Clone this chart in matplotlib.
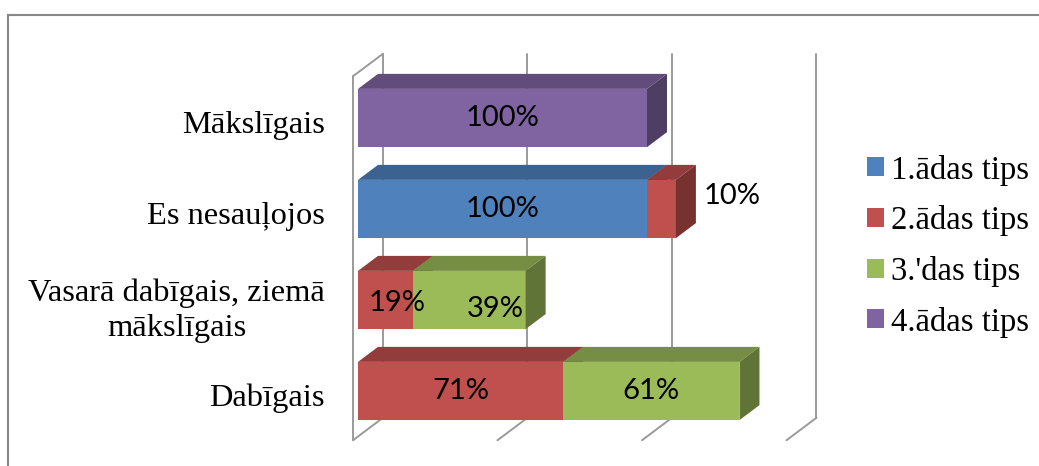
import matplotlib
matplotlib.use('Agg')
import matplotlib.pyplot as plt
from matplotlib.patches import Polygon, Rectangle, Patch
from matplotlib.lines import Line2D
from matplotlib.colors import to_rgb

# dati (kategorijas no augšas uz leju)
categories = ['Mākslīgais', 'Es nesauļojos', 'Vasarā dabīgais, ziemā\nmākslīgais', 'Dabīgais']
series_names = ['1.ādas tips', '2.ādas tips', "3.'das tips", '4.ādas tips']
tips1 = [0, 100, 0, 0]
tips2 = [0, 10, 19, 71]
tips3 = [0, 0, 39, 61]
tips4 = [100, 0, 0, 0]
grid_ticks = [0, 50, 100, 150]

colors = ['#4F81BD', '#C0504D', '#9BBB59', '#8064A2']

W, H = 1039, 466
fig = plt.figure(figsize=(W / 100, H / 100), dpi=100)
fig.patch.set_facecolor('white')

# ass pa visu attēlu, mērogs: 2.89 px uz 1%, 91 px uz kategoriju
PX_X, X0 = 2.89, 358
PX_Y, Y0 = 91, 391
ax = fig.add_axes([0, 0, 1, 1])
ax.set_xlim(-X0 / PX_X, (W - X0) / PX_X)
ax.set_ylim((Y0 - H) / PX_Y, Y0 / PX_Y)
ax.axis('off')

DX = 20 / PX_X     # 3D dziļums
DY = 15 / PX_Y
HALF = 0.32
n = len(categories)


def shade(c, f):
    r, g, b = to_rgb(c)
    return (r * f, g * f, b * f)


# sienas un režģis
wall = dict(color='#9A9A9A', lw=1.4, zorder=1, solid_capstyle='round')
y_lo, y_hi = -0.5, n - 0.5
for g in grid_ticks:
    ax.plot([g + 1.25 * DX] * 2, [y_lo + 1.25 * DY, y_hi + 1.25 * DY], **wall)
    ax.plot([g - 0.25 * DX, g + 1.25 * DX], [y_lo - 0.25 * DY, y_lo + 1.25 * DY], **wall)
ax.plot([-0.25 * DX] * 2, [y_lo - 0.25 * DY, y_hi - 0.25 * DY], **wall)
ax.plot([-0.25 * DX, 1.25 * DX], [y_hi - 0.25 * DY, y_hi + 1.25 * DY], **wall)

# stabiņi
series = [tips1, tips2, tips3, tips4]
label_offsets = {(1, 2): (12, -3), (2, 2): (26, -9)}   # manuāli pārvietotās etiķetes (px)
for k in range(n):
    y = n - 1 - k
    left = 0
    segs = []
    for s, vals in enumerate(series):
        v = vals[k]
        if v > 0:
            segs.append((s, left, v))
            left += v
    for j, (s, x0, v) in enumerate(segs):
        c = colors[s]
        x1 = x0 + v
        ax.add_patch(Rectangle((x0, y - HALF), v, 2 * HALF, facecolor=c, edgecolor='none', zorder=3))
        ax.add_patch(Polygon([(x0, y + HALF), (x1, y + HALF), (x1 + DX, y + HALF + DY),
                              (x0 + DX, y + HALF + DY)], closed=True,
                             facecolor=shade(c, 0.76), edgecolor='none', zorder=3))
        ax.add_patch(Polygon([(x1, y - HALF), (x1 + DX, y - HALF + DY), (x1 + DX, y + HALF + DY),
                              (x1, y + HALF)], closed=True,
                             facecolor=shade(c, 0.62), edgecolor='none', zorder=3))
        txt = f'{v}%'
        if v < 15:
            ax.annotate(txt, (x1 + DX, y), xytext=(8, 13), textcoords='offset pixels',
                        ha='left', va='center', fontsize=21, family='Lato', color='black', zorder=5)
        else:
            off = label_offsets.get((s, k), (0, 0))
            ax.annotate(txt, (x0 + v / 2, y), xytext=off, textcoords='offset pixels',
                        ha='center', va='center', fontsize=21, family='Lato', color='black', zorder=5)

    ax.text(-33 / PX_X, y - 0.08 - (0.04 if '\n' in categories[k] else 0), categories[k],
            ha='right', va='center', multialignment='center', fontsize=23.4,
            family='Liberation Serif', linespacing=1.25, color='black')

# leģenda
handles = [Patch(facecolor=c, edgecolor='none') for c in colors]
fig.legend(handles, series_names, loc='center left', bbox_to_anchor=(867 / W, 1 - 246 / H),
           frameon=False, prop={'family': 'Liberation Serif', 'size': 23.6},
           handlelength=0.52, handleheight=0.52, handletextpad=0.2, labelspacing=0.6,
           borderpad=0, borderaxespad=0)

# rāmis (augša un kreisā puse)
fig.add_artist(Line2D([8 / W, 1], [1 - 15 / H] * 2, color='#888888', lw=1.5))
fig.add_artist(Line2D([8 / W] * 2, [1 - 15 / H, 0], color='#888888', lw=1.5))

plt.savefig('out.png', dpi=100, facecolor='white')
